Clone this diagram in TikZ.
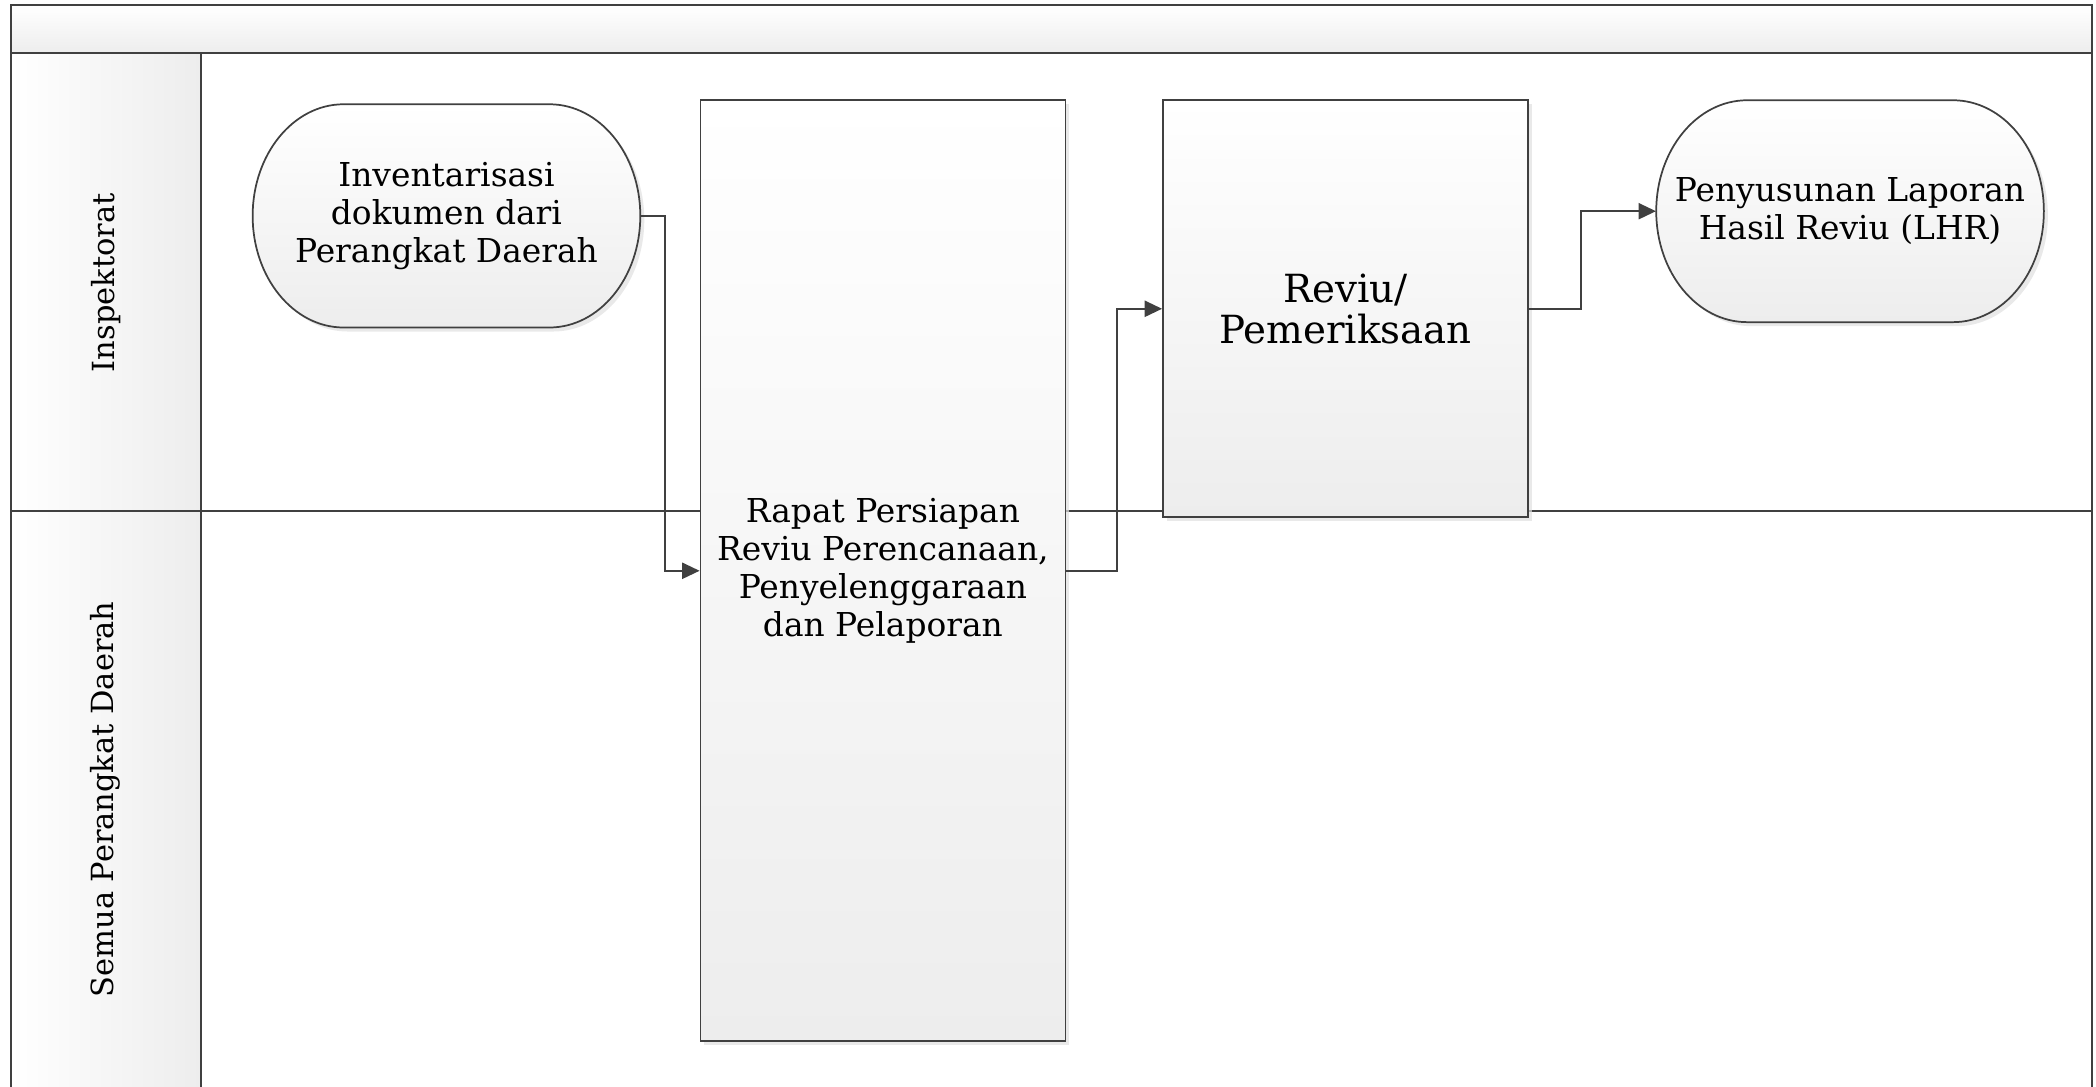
\documentclass[tikz,border=0pt]{standalone}
\usepackage{fontspec}
\setmainfont{DejaVu Serif}
\usetikzlibrary{arrows.meta,shadows}
\definecolor{ln}{HTML}{404040}
\definecolor{shd}{HTML}{EDEDED}
\tikzset{
  frameline/.style={draw=ln, line width=1.5pt},
  procfill/.style={draw=ln, line width=1.3pt, top color=white, bottom color=shd,
    drop shadow={shadow xshift=3pt, shadow yshift=-3pt, fill=black!12, opacity=0.7}},
  procbox/.style={procfill, rectangle, inner sep=0pt, align=center},
  conn/.style={draw=ln, line width=1.5pt, -{Triangle[length=13pt,width=12pt]}},
  txt/.style={align=center, font=\fontsize{24.6}{28.5}\selectfont},
  bigtxt/.style={align=center, font=\fontsize{29}{31}\selectfont},
  lanetxt/.style={rotate=90, font=\fontsize{22.8}{26}\selectfont},
}
\newcommand\termpath[4]{% L T R B (y negative)
  \path[procfill] ({#1+68},#2) -- ({#3-68},#2)
    arc[start angle=90, end angle=-90, x radius=68, y radius={(#2-(#4))/2}]
    -- ({#1+68},#4)
    arc[start angle=270, end angle=90, x radius=68, y radius={(#2-(#4))/2}] -- cycle;}
\begin{document}
\begin{tikzpicture}[x=1pt,y=1pt]
\useasboundingbox (0,0) rectangle (1568,-813);
% pool background
\path[top color=white, bottom color=shd] (8,-4) rectangle (1565,-40);
\path[left color=white, right color=shd] (8,-40) rectangle (150,-813);
\draw[frameline] (8,-813) -- (8,-4) -- (1565,-4) -- (1565,-813);
\draw[frameline] (8,-40) -- (1565,-40);
\draw[frameline] (150,-40) -- (150,-813);
\draw[frameline] (8,-382) -- (1565,-382);
% lane labels
\node[lanetxt] (lane1) at (79,-211.5) {Inspektorat};
\node[lanetxt] (lane2) at (79,-598) {Semua Perangkat Daerah};
% shapes
\termpath{189}{-78}{479}{-245}
\node[txt, minimum width=290pt, minimum height=167pt, inner sep=0pt] (inv) at (334,-161.5)
  {Inventarisasi\\dokumen dari\\Perangkat Daerah};
\node[procbox, txt, minimum width=273pt, minimum height=704pt] (rapat) at (660.5,-427)
  {Rapat Persiapan\\Reviu Perencanaan,\\Penyelenggaraan\\dan Pelaporan};
\node[procbox, bigtxt, minimum width=273pt, minimum height=312pt] (reviu) at (1006.5,-231)
  {Reviu/\\Pemeriksaan};
\termpath{1239}{-75}{1529}{-241}
\node[txt, minimum width=290pt, minimum height=166pt, inner sep=0pt] (lhr) at (1384,-158)
  {Penyusunan Laporan\\Hasil Reviu (LHR)};
% connectors
\draw[conn] (inv.east) -- ++(18,0) |- (rapat.west);
\draw[conn] (rapat.east) -- ++(38,0) |- (reviu.west);
\draw[conn] (reviu.east) -- ++(39,0) |- (lhr.west);
\end{tikzpicture}
\end{document}
